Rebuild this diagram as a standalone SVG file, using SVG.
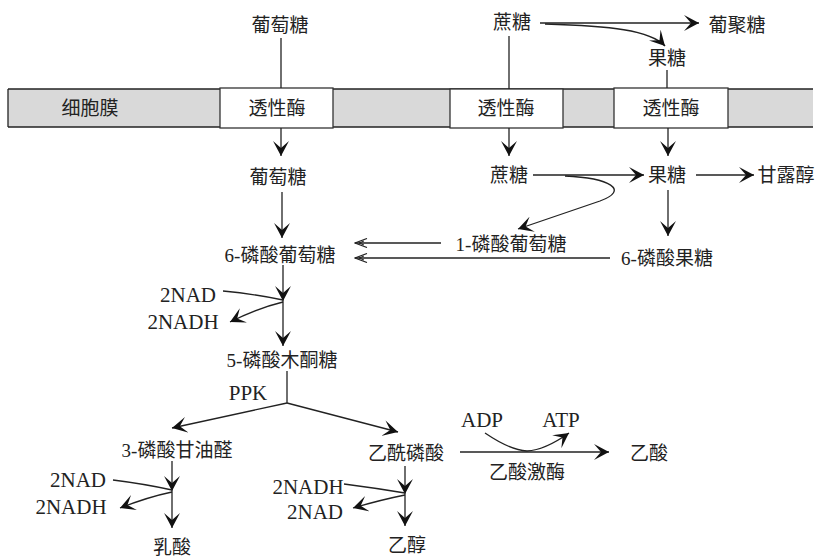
<svg xmlns="http://www.w3.org/2000/svg" width="817" height="558" viewBox="0 0 817 558">
<style>
text{font-family:"Liberation Serif","Noto Sans CJK SC",serif;font-size:19px;fill:#222;text-anchor:middle}
.lat{font-size:21px}
.ln{fill:none;stroke:#222;stroke-width:1.3}
.box{fill:#fff;stroke:#333;stroke-width:1.3}
</style>
<defs>
<marker id="a" viewBox="0 0 16 16" refX="15" refY="8" markerWidth="16" markerHeight="16" markerUnits="userSpaceOnUse" orient="auto">
<path d="M0,0 L15,8 L0,16 L7,8 Z" fill="#111"/>
</marker>
<marker id="t" viewBox="0 0 14 10" refX="13" refY="5" markerWidth="14" markerHeight="10" markerUnits="userSpaceOnUse" orient="auto">
<path d="M1,0.5 L13,5 L1,9.5" fill="none" stroke="#222" stroke-width="1.2"/>
<path d="M4,3 L9,5 L4,7" fill="none" stroke="#222" stroke-width="1"/>
</marker>
</defs>

<g id="membrane">
<rect x="8" y="89" width="805" height="38" fill="#d9d9d9"/>
<line x1="8" y1="89" x2="813" y2="89" class="ln"/>
<line x1="8" y1="127" x2="813" y2="127" class="ln"/>
<line x1="8" y1="89" x2="8" y2="127" class="ln"/>
<text x="90" y="115">细胞膜</text>
</g>
<g id="transporter1"><rect class="box" x="220" y="88" width="113" height="40"/><text x="277" y="115">透性酶</text></g>
<g id="transporter2"><rect class="box" x="450" y="89" width="113" height="39"/><text x="506" y="115">透性酶</text></g>
<g id="transporter3"><rect class="box" x="614" y="88" width="114" height="40"/><text x="671" y="115">透性酶</text></g>

<g id="glucose-out"><text x="280" y="32">葡萄糖</text></g>
<g id="sucrose-out"><text x="512" y="29">蔗糖</text></g>
<g id="dextran"><text x="737" y="32">葡聚糖</text></g>
<g id="fructose-out"><text x="667" y="65">果糖</text></g>
<g id="glucose-in"><text x="278" y="184">葡萄糖</text></g>
<g id="sucrose-in"><text x="509" y="182">蔗糖</text></g>
<g id="fructose-in"><text x="667" y="182">果糖</text></g>
<g id="mannitol"><text x="786" y="182">甘露醇</text></g>
<g id="g6p"><text x="280" y="262">6-磷酸葡萄糖</text></g>
<g id="g1p"><text x="511" y="251">1-磷酸葡萄糖</text></g>
<g id="f6p"><text x="667" y="265">6-磷酸果糖</text></g>
<g id="nad1"><text class="lat" x="188" y="302">2NAD</text></g>
<g id="nadh1"><text class="lat" x="183" y="329">2NADH</text></g>
<g id="x5p"><text x="282" y="367">5-磷酸木酮糖</text></g>
<g id="ppk"><text class="lat" x="248" y="400">PPK</text></g>
<g id="g3p"><text x="177" y="457">3-磷酸甘油醛</text></g>
<g id="acetylp"><text x="406" y="460">乙酰磷酸</text></g>
<g id="adp"><text class="lat" x="482" y="427">ADP</text></g>
<g id="atp"><text class="lat" x="561" y="427">ATP</text></g>
<g id="acetate"><text x="649" y="460">乙酸</text></g>
<g id="ack"><text x="527" y="479">乙酸激酶</text></g>
<g id="nad2"><text class="lat" x="78" y="487">2NAD</text></g>
<g id="nadh2"><text class="lat" x="71" y="514">2NADH</text></g>
<g id="lactate"><text x="172" y="554">乳酸</text></g>
<g id="nadh3"><text class="lat" x="308" y="494">2NADH</text></g>
<g id="nad3"><text class="lat" x="315" y="519">2NAD</text></g>
<g id="ethanol"><text x="407" y="552">乙醇</text></g>

<g id="connectors">
<line class="ln" x1="281" y1="38" x2="281" y2="88"/>
<line class="ln" x1="281" y1="128" x2="281" y2="156" marker-end="url(#a)"/>
<line class="ln" x1="509" y1="36" x2="509" y2="89"/>
<line class="ln" x1="509" y1="128" x2="509" y2="156" marker-end="url(#a)"/>
<line class="ln" x1="667" y1="70" x2="667" y2="88"/>
<line class="ln" x1="668" y1="128" x2="668" y2="156" marker-end="url(#a)"/>
<line class="ln" x1="540" y1="23" x2="699" y2="23" marker-end="url(#a)" style="stroke-width:1.6"/>
<path class="ln" d="M545,24 C610,26 650,30 665,46" marker-end="url(#a)" style="stroke-width:1.6"/>
<line class="ln" x1="282" y1="192" x2="282" y2="238" marker-end="url(#a)"/>
<line class="ln" x1="533" y1="175" x2="644" y2="175" marker-end="url(#a)"/>
<line class="ln" x1="696" y1="175" x2="754" y2="175" marker-end="url(#a)"/>
<path class="ln" d="M565,176 C610,178 630,190 600,201 L518,229" marker-end="url(#a)"/>
<line class="ln" x1="668" y1="190" x2="668" y2="236" marker-end="url(#a)"/>
<line class="ln" x1="441" y1="243" x2="355" y2="243" marker-end="url(#t)"/>
<line class="ln" x1="610" y1="258" x2="355" y2="258" marker-end="url(#t)"/>
<line class="ln" x1="283" y1="265" x2="283" y2="301" marker-end="url(#a)"/>
<line class="ln" x1="283" y1="301" x2="283" y2="346" marker-end="url(#a)"/>
<path class="ln" d="M223,291 Q255,294 283,300"/>
<path class="ln" d="M283,302 Q258,308 230,322" marker-end="url(#a)"/>
<line class="ln" x1="287" y1="371" x2="287" y2="403"/>
<line class="ln" x1="287" y1="403" x2="172" y2="428" marker-end="url(#a)"/>
<line class="ln" x1="287" y1="403" x2="398" y2="432" marker-end="url(#a)"/>
<line class="ln" x1="172" y1="461" x2="172" y2="491" marker-end="url(#a)"/>
<line class="ln" x1="172" y1="491" x2="172" y2="528" marker-end="url(#a)"/>
<path class="ln" d="M113,480 Q145,484 172,490"/>
<path class="ln" d="M172,492 Q148,497 120,508" marker-end="url(#a)"/>
<line class="ln" x1="405" y1="466" x2="405" y2="494" marker-end="url(#a)"/>
<line class="ln" x1="405" y1="494" x2="405" y2="526" marker-end="url(#a)"/>
<path class="ln" d="M344,484 Q375,488 405,493"/>
<path class="ln" d="M405,495 Q380,500 353,508" marker-end="url(#a)"/>
<line class="ln" x1="460" y1="452" x2="609" y2="452" marker-end="url(#a)"/>
<path class="ln" d="M485,433 Q510,450 527,451 Q545,450 569,433" marker-end="url(#a)"/>
</g>
</svg>
